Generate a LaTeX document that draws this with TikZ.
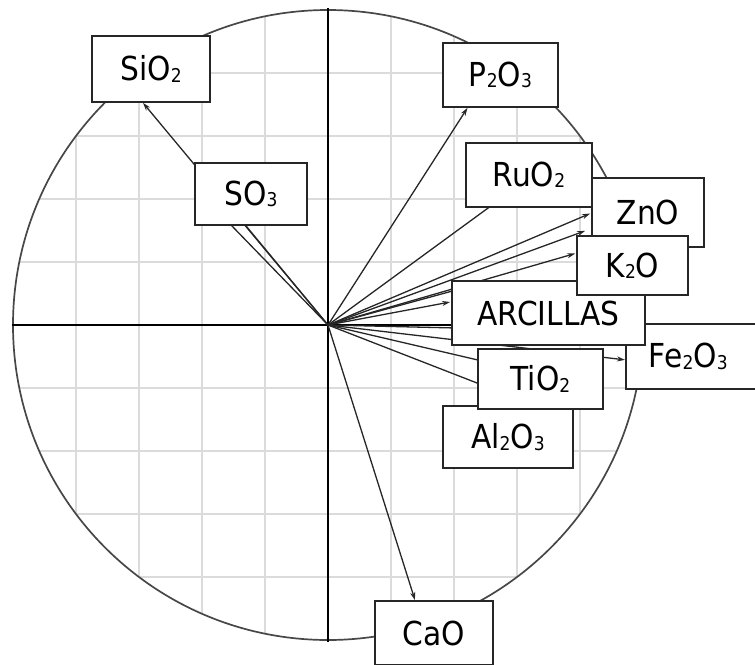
\documentclass[tikz,border=0pt]{standalone}
\usepackage{fontspec}
\setmainfont{DejaVu Sans}[FakeStretch=0.9]
\usetikzlibrary{arrows.meta,calc}
\pgfdeclarelayer{background}
\pgfsetlayers{background,main}
\newcommand\chs[1]{\raisebox{-1.5pt}{\fontsize{19pt}{19pt}\selectfont #1}}
\begin{document}
\begin{tikzpicture}[x=1pt,y=-1pt,
  box/.style={draw=black!85, line width=1.7pt, fill=white, inner sep=0pt,
    font=\fontsize{33pt}{36pt}\selectfont, text=black},
  vec/.style={draw=black!85, line width=1.3pt, -{Stealth[length=8pt,width=5pt]}},
  ln/.style={draw=black!85, line width=1.3pt},
  gridl/.style={draw=black!14, line width=2.2pt},
  axisl/.style={draw=black, line width=1.6pt},
  ring/.style={draw=black!72, line width=1.7pt}]
\useasboundingbox (0,0) rectangle (755,664);
\coordinate (o) at (328,325);

% boxes (bottom to top)
\node[box, anchor=north west, minimum width=160pt, minimum height=65pt,
      text width=114pt, align=left] (fe) at (625,323) {Fe\chs{2}O\chs{3}};
\node[box, minimum width=193pt, minimum height=64pt] (ar) at (548.5,313) {ARCILLAS};
\node[box, minimum width=130pt, minimum height=62pt] (al) at (508,437) {Al\chs{2}O\chs{3}};
\node[box, minimum width=125pt, minimum height=60pt] (ti) at (540.5,379) {TiO\chs{2}};
\node[box, minimum width=112pt, minimum height=69pt] (zn) at (648,212.5) {ZnO};
\node[box, minimum width=126pt, minimum height=64pt] (ru) at (529,175) {RuO\chs{2}};
\node[box, minimum width=111pt, minimum height=59pt] (k) at (632.5,265.5) {K\chs{2}O};
\node[box, minimum width=118pt, minimum height=66pt] (sio) at (151,69) {SiO\chs{2}};
\node[box, minimum width=115pt, minimum height=64pt] (po) at (500.5,75) {P\chs{2}O\chs{3}};
\node[box, minimum width=112pt, minimum height=62pt] (so) at (251,194) {SO\chs{3}};
\node[box, minimum width=118pt, minimum height=64pt] (ca) at (434,633) {CaO};

\begin{pgfonlayer}{background}
  \begin{scope}
    \clip (o) circle (315pt);
    \foreach \k in {-5,...,5} {
      \draw[gridl] (328+63*\k,0) -- (328+63*\k,664);
      \draw[gridl] (0,325+63*\k) -- (700,325+63*\k);
    }
  \end{scope}
  \draw[ring] (o) circle (315pt);
  \draw[axisl] (12,325) -- (645,325);
  \draw[axisl] (328,8) -- (328,642);

  \draw[vec] (o) -- ($(sio.south)+(-8,0)$);
  \draw[ln] (o) -- ($(so.south)+(-25,-6)$);
  \draw[ln] (o) -- ($(so.south)+(-10,-6)$);
  \draw[vec] (o) -- ($(po.south)+(-33,0)$);
  \draw[ln] (o) -- ($(ru.south west)+(30,-5)$);
  \draw[vec] (o) -- ($(zn.west)+(-1,1)$);
  \draw[vec] (o) -- ($(zn.south west)+(-6,-17)$);
  \draw[vec] (o) -- ($(k.west)+(-1,-12)$);
  \draw[ln] (o) -- ($(ar.west)+(5,-23)$);
  \draw[vec] (o) -- ($(ar.west)+(-1,-11)$);
  \draw[ln] (o) -- ($(ar.west)+(5,15)$);
  \draw[vec] (o) -- ($(fe.west)+(0,3.5)$);
  \draw[ln] (o) -- ($(ti.west)+(5,-18)$);
  \draw[ln] (o) -- ($(ti.west)+(5,6)$);
  \draw[vec] (o) -- ($(ca.north)+(-19,0)$);
\end{pgfonlayer}
\end{tikzpicture}
\end{document}
